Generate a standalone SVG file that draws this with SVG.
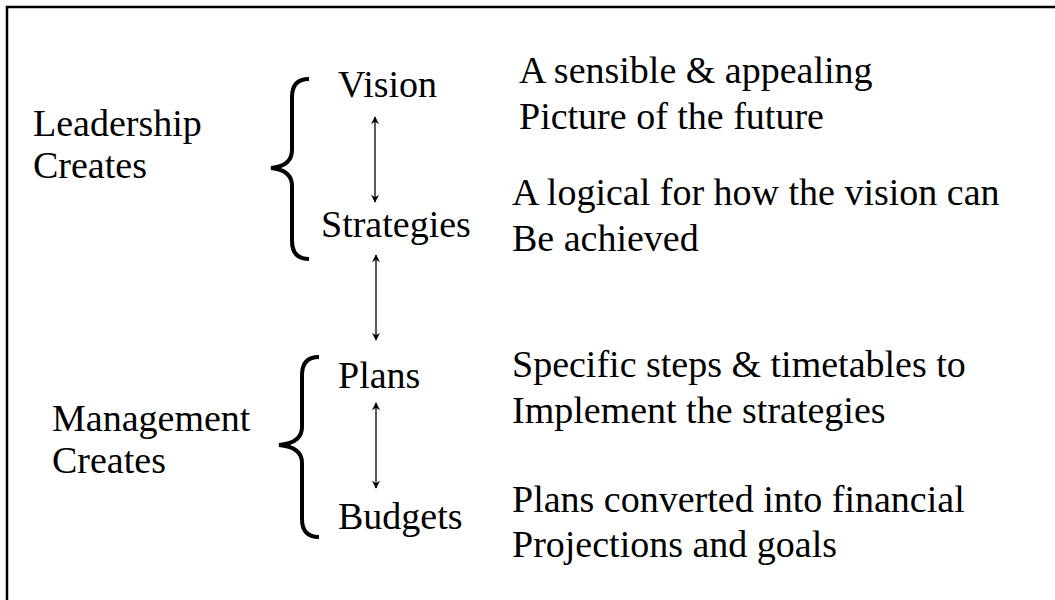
<svg xmlns="http://www.w3.org/2000/svg" width="1055" height="600" viewBox="0 0 1055 600">
<defs>
<style>
text{font-family:"Liberation Serif","Times New Roman",serif;font-size:38px;fill:#000}
.brace{fill:none;stroke:#000;stroke-width:4;stroke-linecap:butt}
.conn{stroke:#000;stroke-width:1.3;fill:none}
</style>
<marker id="ah" viewBox="0 0 10 10" refX="9" refY="5" markerUnits="userSpaceOnUse" markerWidth="8" markerHeight="8" orient="auto-start-reverse">
<path d="M0,0 L10,5 L0,10 L3,5 Z" fill="#000"/>
</marker>
</defs>
<rect x="0" y="0" width="1055" height="600" fill="#fff"/>
<rect x="7" y="7" width="1200" height="800" fill="none" stroke="#000" stroke-width="2.5"/>
<g id="leadership"><text x="33" y="136">Leadership</text><text x="33" y="178">Creates</text></g>
<g id="management"><text x="52" y="431">Management</text><text x="52" y="473">Creates</text></g>
<g id="brace-leadership"><path class="brace" d="M309,79 Q292,79 292,97 L292,150 Q292,166 271,168 Q292,170 292,186 L292,241 Q292,259 309,259"/></g>
<g id="brace-management"><path class="brace" d="M319,357 Q302,357 302,375 L302,427 Q302,443 279,445 Q302,447 302,463 L302,519 Q302,537 319,537"/></g>
<g id="vision"><text x="338" y="97">Vision</text></g>
<g id="strategies"><text x="321" y="237">Strategies</text></g>
<g id="plans"><text x="338" y="388">Plans</text></g>
<g id="budgets"><text x="338" y="529">Budgets</text></g>
<g id="desc-vision"><text x="519" y="83">A sensible &amp; appealing</text><text x="519" y="129">Picture of the future</text></g>
<g id="desc-strategies"><text x="512" y="205">A logical for how the vision can</text><text x="512" y="251">Be achieved</text></g>
<g id="desc-plans"><text x="512" y="377">Specific steps &amp; timetables to</text><text x="512" y="423">Implement the strategies</text></g>
<g id="desc-budgets"><text x="512" y="512">Plans converted into financial</text><text x="512" y="557">Projections and goals</text></g>
<g id="connectors">
<line class="conn" x1="375" y1="117" x2="375" y2="202" marker-start="url(#ah)" marker-end="url(#ah)"/>
<line class="conn" x1="376" y1="255" x2="376" y2="340" marker-start="url(#ah)" marker-end="url(#ah)"/>
<line class="conn" x1="376" y1="403" x2="376" y2="488" marker-start="url(#ah)" marker-end="url(#ah)"/>
</g>
</svg>
